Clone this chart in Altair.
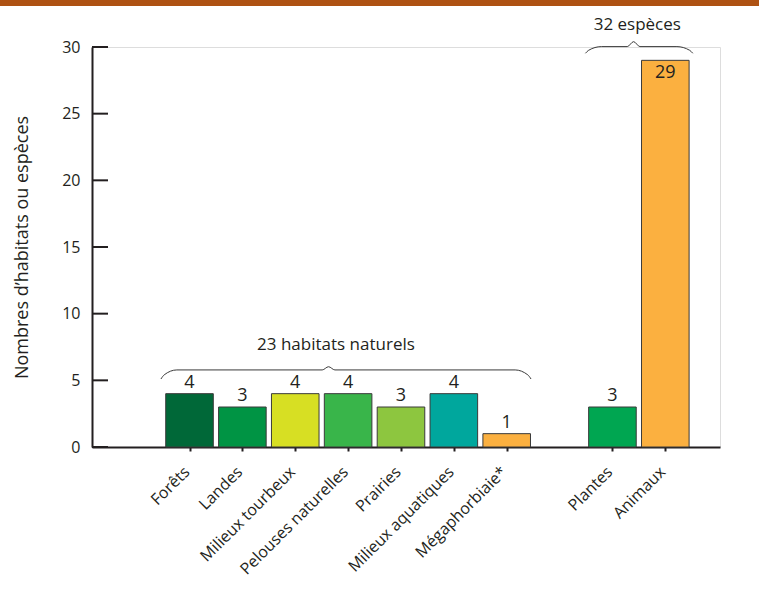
import json
import altair as alt
import pandas as pd

# ---- data -------------------------------------------------------------
categories = ["Forêts", "Landes", "Milieux tourbeux", "Pelouses naturelles",
              "Prairies", "Milieux aquatiques", "Mégaphorbiaie*", "Plantes", "Animaux"]
values = [4, 3, 4, 4, 3, 4, 1, 3, 29]
groups = ["habitats"] * 7 + ["espèces"] * 2
y_ticks = [0, 5, 10, 15, 20, 25, 30]

# group annotations (brace anchors in data units: x slot, y value)
group_names = ["23 habitats naturels", "32 espèces"]
brace_x0 = [-0.54, 7.49]
brace_x1 = [6.46, 9.52]
brace_peak = [2.63, 8.40]
brace_low = [5.10, 29.53]
brace_flat = [5.78, 30.03]
brace_top = [6.02, 30.40]
label_x = [2.77, 8.47]
label_y = [7.65, 31.66]

# ---- styles -----------------------------------------------------------
palette = ["#006838", "#009444", "#D7DF23", "#39B54A", "#8DC63F",
           "#00A79D", "#FBB040", "#00A651", "#FBB040"]
FONT = "Open Sans"
INK = "#231F20"

# ---- derived tables ---------------------------------------------------
slots = [i + (1 if g == "espèces" else 0) for i, g in enumerate(groups)]
df = pd.DataFrame({"cat": categories, "value": values, "group": groups, "slot": slots})

labels_by_slot = [""] * (max(slots) + 1)
for s, c in zip(slots, categories):
    labels_by_slot[s] = c
label_expr = json.dumps(labels_by_slot, ensure_ascii=False) + "[round(datum.value)]"

brace_rows = []
for k in range(len(group_names)):
    x0, x1, pk = brace_x0[k], brace_x1[k], brace_peak[k]
    lo, fl, tp = brace_low[k], brace_flat[k], brace_top[k]
    pts = [
        (x0, lo), (x0 + 0.06, lo + 0.45 * (fl - lo)), (x0 + 0.3, fl),
        (pk - 0.12, fl), (pk, tp), (pk + 0.12, fl),
        (x1 - 0.3, fl), (x1 - 0.06, lo + 0.45 * (fl - lo)), (x1, lo),
    ]
    for j, (px, py) in enumerate(pts):
        brace_rows.append({"brace": k, "order": j, "bx": px, "by": py})
braces = pd.DataFrame(brace_rows)
ann = pd.DataFrame({"text": group_names, "x": label_x, "y": label_y})

xscale = alt.Scale(domain=[-1.75, 9.94], nice=False, zero=False)
yscale = alt.Scale(domain=[0, 30], nice=False)

xaxis = alt.Axis(values=sorted(slots), labelExpr=label_expr, labelAngle=-45,
                 labelAlign="right", labelBaseline="middle",
                 labelFont=FONT, labelFontSize=16, labelColor=INK, labelOverlap=False,
                 labelPadding=18, labelOffset=-3, tickSize=4, tickWidth=2, tickColor=INK,
                 domainColor=INK, domainWidth=2, grid=False, title=None)
yaxis = alt.Axis(values=y_ticks, ticks=False, domainColor=INK, domainWidth=2,
                 labelFont=FONT, labelFontSize=16, labelColor=INK,
                 labelPadding=12, grid=False,
                 title="Nombres d’habitats ou espèces", titleFont=FONT,
                 titleFontSize=18, titleFontWeight="normal", titleColor=INK,
                 titlePadding=30)


def X(field):
    return alt.X(field, scale=xscale, axis=xaxis)


def Y(field):
    return alt.Y(field, scale=yscale, axis=yaxis)


base = alt.Chart(df).transform_calculate(
    xa="datum.slot - 0.45", xb="datum.slot + 0.45"
)

bars = base.mark_bar(stroke="#3a3a3a", strokeWidth=1, orient="vertical").encode(
    x=X("xa:Q"),
    x2="xb:Q",
    y=Y("value:Q"),
    y2=alt.datum(0),
    color=alt.Color("cat:N", scale=alt.Scale(domain=categories, range=palette), legend=None),
)

vmax = max(values)
labels_out = base.transform_filter(f"datum.value < {vmax}").mark_text(
    font=FONT, fontSize=18, color=INK, baseline="bottom", dy=-2
).encode(x=X("slot:Q"), y=Y("value:Q"), text="value:Q")

labels_in = base.transform_filter(f"datum.value >= {vmax}").mark_text(
    font=FONT, fontSize=18, color=INK, baseline="top", dy=4
).encode(x=X("slot:Q"), y=Y("value:Q"), text="value:Q")

yticks = alt.Chart(pd.DataFrame({"t": y_ticks})).mark_rule(
    color=INK, strokeWidth=2
).encode(y=Y("t:Q"), x=alt.value(0), x2=alt.value(16))

brace_lines = alt.Chart(braces).mark_line(
    color="#3a3a3a", strokeWidth=1, interpolate="monotone"
).encode(
    x=X("bx:Q"), y=Y("by:Q"),
    detail="brace:N", order="order:Q",
)

ann_text = alt.Chart(ann).mark_text(font=FONT, fontSize=17, color=INK).encode(
    x=X("x:Q"), y=Y("y:Q"), text="text:N"
)

band = alt.Chart(pd.DataFrame({"a": [0]})).mark_rect(color="#AE5213").encode(
    x=alt.value(-92), x2=alt.value(667), y=alt.value(-47), y2=alt.value(-41)
)

chart = alt.layer(
    band, bars, yticks, brace_lines, labels_out, labels_in, ann_text
).properties(
    width=628, height=400,
    autosize=alt.AutoSizeParams(type="none"),
    padding={"left": 92, "top": 47, "right": 39, "bottom": 144},
).configure_view(stroke=None).configure(background="white")

chart.save("out.html", embed_options={"renderer": "svg", "actions": False})
